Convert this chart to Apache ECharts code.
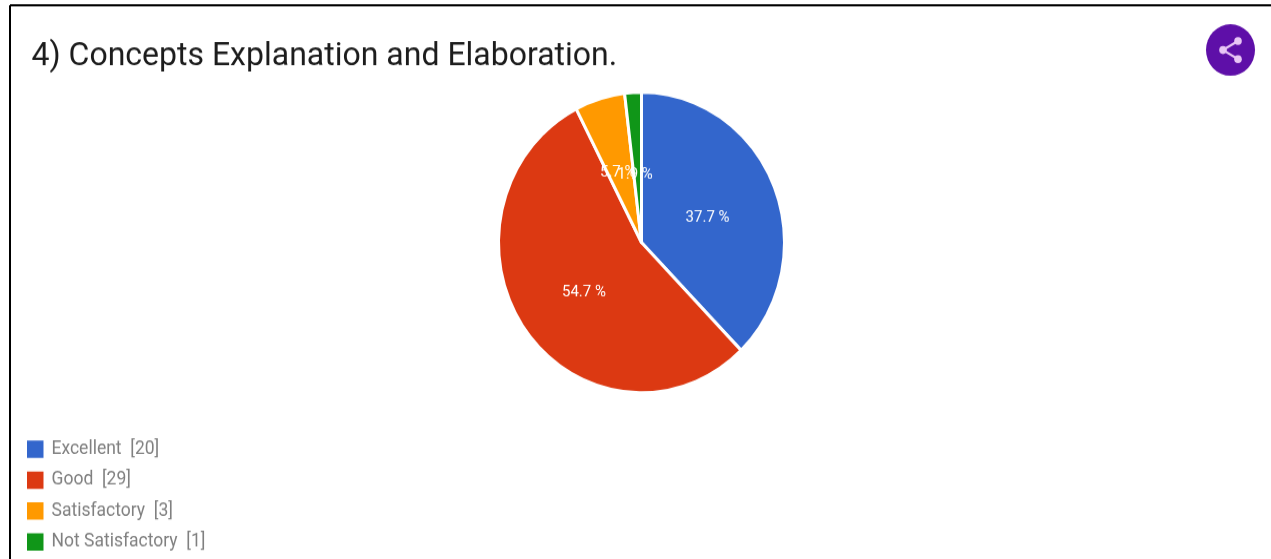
<!DOCTYPE html>
<html>
<head>
<meta charset="utf-8">
<style>html,body{margin:0;padding:0;background:#fff;width:1271px;height:559px}#wrap{width:1271px;height:559px;overflow:hidden;position:relative}#c{width:1271px;height:532px;transform:scaleY(1.0508);transform-origin:0 0}</style>
<script src="https://cdn.jsdelivr.net/npm/echarts@6/dist/echarts.min.js"></script>
</head>
<body>
<div id="wrap"><div id="c"></div></div>
<script>
const titleText = '4) Concepts Explanation and Elaboration.';
const categories = ['Excellent', 'Good', 'Satisfactory', 'Not Satisfactory'];
const counts = [20, 29, 3, 1];
const colors = ['#3366cc', '#dc3912', '#ff9900', '#109618'];
const labelNudges = [[-3, 4.5], [3, 4], [-2, 5], [-2, 9.5]];

const chart = echarts.init(document.getElementById('c'), null, {renderer: 'canvas'});
chart.setOption({
  animation: false,
  backgroundColor: '#fff',
  color: colors,
  title: {
    text: titleText, left: 26.5, top: 33,
    textStyle: {fontFamily: 'Roboto', fontSize: 32, fontWeight: 'normal', color: '#1c1c1c'}
  },
  legend: {
    orient: 'vertical', left: 20, top: 412.3, height: 125,
    itemWidth: 18.5, itemHeight: 18.5, itemGap: 8.9,
    icon: 'rect',
    selectedMode: false,
    data: categories,
    formatter: n => n + '  [' + counts[categories.indexOf(n)] + ']',
    textStyle: {fontFamily: 'Roboto', fontSize: 17.5, color: '#808080', padding: [0, 0, 0, 2]}
  },
  series: [{
    type: 'pie',
    center: [641.5, 230.8],
    radius: [0, 143],
    startAngle: 90,
    clockwise: true,
    percentPrecision: 1,
    avoidLabelOverlap: false,
    labelLayout: p => ({hideOverlap: false, dx: labelNudges[p.dataIndex][0], dy: labelNudges[p.dataIndex][1]}),
    itemStyle: {borderColor: '#fff', borderWidth: 3},
    label: {
      show: true, position: 'inner', formatter: '{d} %',
      fontFamily: 'Roboto', fontSize: 15, color: '#fff'
    },
    labelLine: {show: false},
    emphasis: {disabled: true},
    data: categories.map((c, i) => ({name: c, value: counts[i]}))
  }],
  graphic: [
    {type: 'line', shape: {x1: 10, y1: 5, x2: 1271, y2: 5}, style: {stroke: '#000', lineWidth: 2}},
    {type: 'line', shape: {x1: 10, y1: 5, x2: 10, y2: 532}, style: {stroke: '#000', lineWidth: 2}},
    {type: 'circle', shape: {cx: 1230.5, cy: 47.6, r: 24.5}, style: {fill: '#5e0fa8'}},
    {type: 'polyline', shape: {points: [[1238, 39], [1223, 47.6], [1238, 56.2]]}, style: {fill: 'none', stroke: '#e8c6f5', lineWidth: 2.2}},
    {type: 'circle', shape: {cx: 1238, cy: 39, r: 3.8}, style: {fill: '#e8c6f5'}},
    {type: 'circle', shape: {cx: 1223, cy: 47.6, r: 3.8}, style: {fill: '#e8c6f5'}},
    {type: 'circle', shape: {cx: 1238, cy: 56.2, r: 3.8}, style: {fill: '#e8c6f5'}}
  ]
});
</script>
</body>
</html>
